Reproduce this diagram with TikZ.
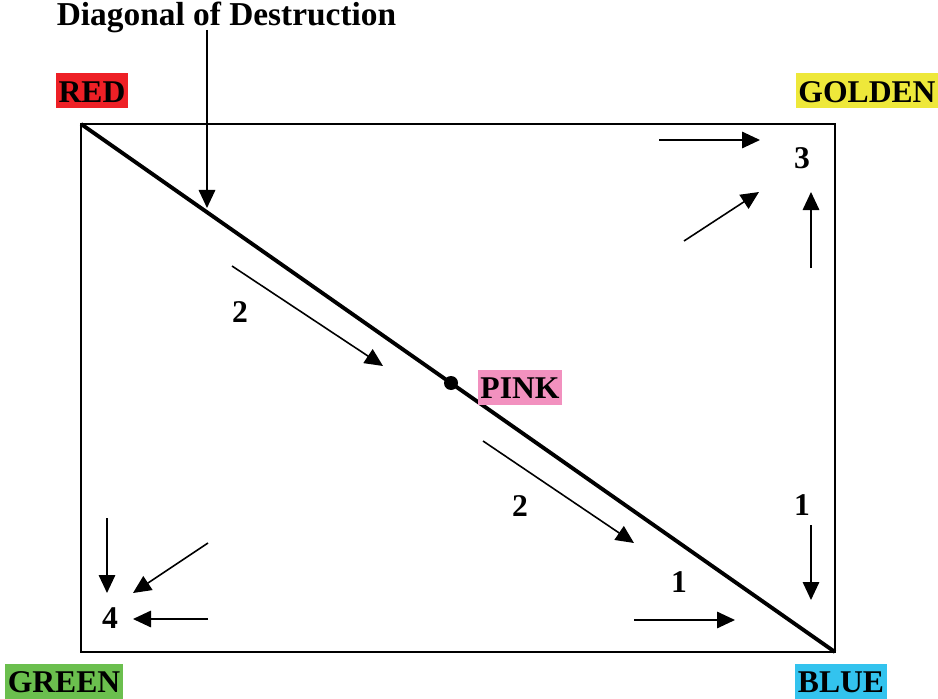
\documentclass[tikz,border=0pt]{standalone}
\usepackage{fontspec}
\setmainfont{Liberation Serif}
\usetikzlibrary{arrows.meta}
\definecolor{redtag}{HTML}{EE2026}
\definecolor{goldtag}{HTML}{EEE83A}
\definecolor{greentag}{HTML}{6BBF4E}
\definecolor{bluetag}{HTML}{33C3EE}
\definecolor{pinktag}{HTML}{F291BF}
\begin{document}
\begin{tikzpicture}[scale=1, every node/.style={scale=1, font=\fontsize{18}{20}\selectfont\bfseries},
    flow/.style={color = black, line width=0.9pt, -{Triangle[length=0.36cm,width=0.33cm]}},
    tag/.style={fill=#1, inner xsep=1.5pt, inner ysep=0.12cm, text height=0.46cm, text depth=0pt}]
        \useasboundingbox (0,0) rectangle (18.76,13.96);
        % frame and diagonal
        \coordinate (nw) at (1.62,11.48);
        \coordinate (se) at (16.70,0.92);
        \draw[color = black, line width=0.8pt] (nw) rectangle (se);
        \draw[color = black, line width=2.2pt] (nw) -- (se);
        \coordinate (pinkpt) at (9.02,6.30);
        \fill (pinkpt) circle (0.14);
        % corner labels
        \node[tag=redtag] (red) at (1.84,12.14) {RED};
        \node[tag=goldtag] (golden) at (17.34,12.14) {GOLDEN};
        \node[tag=greentag] (green) at (1.28,0.34) {GREEN};
        \node[tag=bluetag] (blue) at (16.82,0.34) {BLUE};
        \node[tag=pinktag] (pink) at (10.40,6.22) {PINK};
        % title and its pointer
        \node[font=\fontsize{19}{21}\selectfont\bfseries] (title) at (4.53,13.62) {Diagonal of Destruction};
        \coordinate (titlehead) at (4.14,13.36);
        \coordinate (titlefoot) at (4.14,9.80);
        \draw[flow] (titlehead) -- (titlefoot);
        % numbers
        \node (three) at (16.04,10.80) {3};
        \node (twoa) at (4.80,7.72) {2};
        \node (twob) at (10.40,3.84) {2};
        \node (onea) at (16.04,3.86) {1};
        \node (oneb) at (13.58,2.32) {1};
        \node (four) at (2.20,1.60) {4};
        % arrows towards 3
        \coordinate (a1s) at (13.18,11.16); \coordinate (a1e) at (15.20,11.16);
        \coordinate (a2s) at (13.68,9.14);  \coordinate (a2e) at (15.18,10.12);
        \coordinate (a3s) at (16.22,8.60);  \coordinate (a3e) at (16.22,10.12);
        \draw[flow] (a1s) -- (a1e);
        \draw[flow] (a2s) -- (a2e);
        \draw[flow] (a3s) -- (a3e);
        % arrows along the diagonal
        \coordinate (b1s) at (4.64,8.64);  \coordinate (b1e) at (7.66,6.64);
        \coordinate (b2s) at (9.66,5.14);  \coordinate (b2e) at (12.68,3.10);
        \draw[flow] (b1s) -- (b1e);
        \draw[flow] (b2s) -- (b2e);
        % arrows towards blue
        \coordinate (c1s) at (12.68,1.56); \coordinate (c1e) at (14.70,1.56);
        \coordinate (c2s) at (16.22,3.46); \coordinate (c2e) at (16.22,1.96);
        \draw[flow] (c1s) -- (c1e);
        \draw[flow] (c2s) -- (c2e);
        % arrows towards 4
        \coordinate (d1s) at (2.14,3.60); \coordinate (d1e) at (2.14,2.10);
        \coordinate (d2s) at (4.16,3.10); \coordinate (d2e) at (2.66,2.10);
        \coordinate (d3s) at (4.16,1.58); \coordinate (d3e) at (2.66,1.58);
        \draw[flow] (d1s) -- (d1e);
        \draw[flow] (d2s) -- (d2e);
        \draw[flow] (d3s) -- (d3e);
        \end{tikzpicture}
\end{document}
